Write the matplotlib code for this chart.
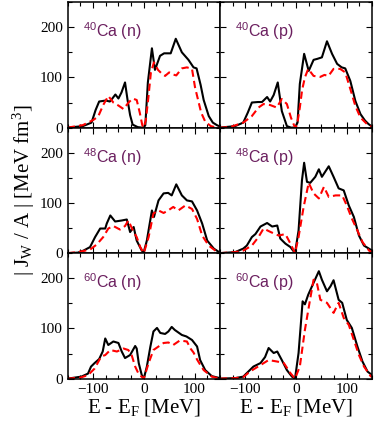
import numpy as np
import matplotlib
matplotlib.use("Agg")
import matplotlib.pyplot as plt
from matplotlib.ticker import MultipleLocator

plt.rcParams['mathtext.default'] = 'regular'

# panel labels (row by row, left = neutrons, right = protons)
labels = [["40", "Ca (n)"], ["40", "Ca (p)"],
          ["48", "Ca (n)"], ["48", "Ca (p)"],
          ["60", "Ca (n)"], ["60", "Ca (p)"]]

# black solid curves
x_ca40n = [-150, -120, -103, -95, -88, -75, -67, -62, -56, -50, -44, -37, -32, -27, -22, -12, -4, 0, 3, 8, 16, 22, 32, 40, 53, 63, 75, 88, 98, 104, 112, 118, 128, 136, 144, 150]
y_ca40n = [0, 3, 10, 35, 52, 54, 52, 58, 66, 58, 70, 90, 55, 25, 6, 1, 0, 0, 5, 90, 158, 115, 143, 148, 148, 177, 150, 135, 120, 118, 85, 55, 23, 10, 5, 2]
x_ca40p = [-150, -120, -104, -95, -87, -75, -67, -57, -51, -44, -36, -28, -18, -10, -2, 3, 7.5, 16, 25, 34.6, 42, 51, 61, 71, 81, 90, 97, 107, 117, 127, 136, 143, 150]
y_ca40p = [0, 3, 10, 30, 50, 51, 51, 61, 52, 65, 90, 33, 3, 0, 0, 10, 87, 147, 113, 135, 137, 140, 172, 147, 127, 120, 118, 93, 53, 27, 14, 7, 2]
x_ca48n = [-150, -130, -119, -106, -96, -86, -76, -73, -66, -56.5, -43.5, -33.5, -27, -20, -14, -4, 0, 6, 16, 20, 29, 39, 48, 55, 64, 75, 85, 95, 105, 115, 125, 138, 150]
y_ca48n = [0, 1, 5, 12, 32, 49, 49, 59, 75, 63, 65, 67, 42, 52, 25, 5, 2, 25, 85, 72, 105, 119, 120, 115, 137, 115, 105, 103, 85, 59, 25, 9, 1]
x_ca48p = [-150, -120, -104, -97, -87, -80, -70, -57, -47, -37, -31, -21, -11, -2, 5, 11.7, 16, 21.6, 28, 38, 45, 51, 64.5, 74, 84, 94, 104, 114, 124, 134, 150]
y_ca48p = [0, 2, 9, 15, 32, 38, 53, 60, 53, 55, 29, 19, 12, 0, 45, 145, 180, 142, 140, 152, 167, 152, 173, 152, 129, 125, 95, 72, 35, 15, 5]
x_ca60n = [-150, -123, -110, -104, -97, -88, -81, -76, -70, -60, -50, -43.5, -37, -27, -17, -14, -10, -4, 0, 6, 13, 19, 26, 32.5, 42, 48.5, 55, 61, 75, 84, 95, 105, 111, 121, 134, 150]
y_ca60n = [0, 4, 10, 24, 31, 39, 54, 80, 67, 74, 71, 54, 41, 47, 65, 60, 31, 7, 0, 24, 64, 94, 101, 91, 89, 94, 103, 97, 87, 84, 77, 64, 37, 17, 5, 1]
x_ca60p = [-150, -120, -104, -94, -84, -70, -61, -54, -44, -37, -28, -18, -8, -2, 5, 13, 17.5, 24, 34.6, 45, 51, 61, 68, 74, 84, 91, 100, 110, 121, 131, 141, 150]
y_ca60p = [0, 1, 4, 14, 24, 31, 43, 61, 51, 54, 37, 17, 4, 0, 51, 154, 148, 167, 191, 214, 197, 174, 184, 196, 157, 151, 117, 101, 64, 34, 14, 7]

# red dashed curves
xr_ca40n = [-150, -120, -100, -90, -80, -70, -60, -50, -40, -30, -22, -14, -8, -3, 0, 4, 9, 14, 20, 28, 35, 42, 50, 57, 64, 75, 85, 95, 101, 107, 113, 121, 132, 144, 150]
yr_ca40n = [0, 5, 15, 22, 45, 63, 50, 44, 37, 50, 58, 55, 30, 5, 0, 15, 60, 110, 130, 115, 108, 103, 110, 106, 104, 118, 120, 117, 80, 55, 30, 12, 3, 0, 0]
xr_ca40p = [-150, -130, -104, -87, -74, -64, -51, -38, -28, -18, -10, -2, 2, 7.5, 12, 17.5, 24, 34.6, 47.7, 56, 64, 74, 87, 97, 107, 117, 127, 140, 150]
yr_ca40p = [0, 1, 10, 23, 40, 47, 45, 40, 57, 47, 20, 0, 5, 40, 75, 100, 117, 103, 101, 105, 103, 117, 117, 110, 77, 43, 20, 7, 2]
xr_ca48n = [-150, -130, -106, -93, -80, -70, -60, -47, -37, -30.5, -20, -14, -7, 0, 9.5, 19, 29, 39, 48, 58, 68, 82, 95, 105, 115, 128, 145, 150]
yr_ca48n = [0, 2, 7, 17, 32, 49, 54, 47, 54, 65, 42, 32, 12, 0, 32, 79, 85, 80, 85, 92, 85, 95, 88, 68, 35, 15, 2, 0]
xr_ca48p = [-150, -120, -104, -87, -74, -64, -50, -34, -21, -11, -2, 5, 15, 25, 34.6, 45, 55, 64.5, 78, 91, 100, 110, 121, 131, 144, 150]
yr_ca48p = [0, 2, 5, 15, 32, 49, 42, 35, 38, 19, 0, 32, 92, 140, 119, 109, 132, 112, 115, 115, 95, 69, 45, 22, 5, 2]
xr_ca60n = [-150, -125, -110, -97, -84, -76, -66, -53, -40, -30.5, -24, -17, -10, 0, 9.5, 19, 29, 39, 48.5, 58, 71, 85, 92, 98, 105, 111, 118, 134, 150]
yr_ca60n = [0, 2, 7, 20, 44, 47, 57, 54, 60, 57, 47, 24, 9, 0, 31, 57, 64, 71, 72, 67, 76, 74, 60, 52, 38, 28, 17, 4, 0]
xr_ca60p = [-150, -120, -104, -91, -70, -54, -37, -24, -11, -2, 7.5, 17.5, 27.6, 34.6, 41, 48, 61, 74, 84, 94, 104, 114, 124, 134, 147, 150]
yr_ca60p = [0, 1, 3, 14, 27, 37, 34, 31, 11, 0, 24, 97, 157, 197, 191, 157, 151, 131, 151, 121, 107, 77, 47, 24, 5, 3]

black = [(x_ca40n, y_ca40n), (x_ca40p, y_ca40p),
         (x_ca48n, y_ca48n), (x_ca48p, y_ca48p),
         (x_ca60n, y_ca60n), (x_ca60p, y_ca60p)]
red = [(xr_ca40n, yr_ca40n), (xr_ca40p, yr_ca40p),
       (xr_ca48n, yr_ca48n), (xr_ca48p, yr_ca48p),
       (xr_ca60n, yr_ca60n), (xr_ca60p, yr_ca60p)]

serif = 'Liberation Serif'
purple = '#6b1f5f'

fig, axes = plt.subplots(3, 2, figsize=(3.74, 4.24), dpi=100, sharex=True, sharey=True)
fig.subplots_adjust(left=0.181, right=0.995, top=0.995, bottom=0.107, wspace=0, hspace=0)

for i, ax in enumerate(axes.flat):
    xb, yb = black[i]
    xr, yr = red[i]
    ax.plot(xb, yb, color='black', lw=1.5)
    ax.plot(xr, yr, color='red', lw=1.5, dashes=(3.5, 2))
    ax.set_xlim(-150, 150)
    ax.set_ylim(0, 250)
    ax.xaxis.set_major_locator(MultipleLocator(100))
    ax.xaxis.set_minor_locator(MultipleLocator(25))
    ax.yaxis.set_major_locator(MultipleLocator(100))
    ax.yaxis.set_minor_locator(MultipleLocator(50))
    ax.tick_params(which='both', direction='in', top=True, right=True, width=0.8)
    ax.tick_params(which='major', length=4.5, labelsize=11)
    ax.tick_params(which='minor', length=3)
    for lab in ax.get_xticklabels() + ax.get_yticklabels():
        lab.set_family(serif)
    for sp in ax.spines.values():
        sp.set_linewidth(1.1)
    ax.text(0.10, 0.72, r"$^{%s}$%s" % (labels[i][0], labels[i][1]),
            transform=ax.transAxes, color=purple, fontsize=11.5,
            family='Liberation Sans', va='baseline', ha='left')

fig.text(0.064, 0.552, r"| J$_W$ / A | [MeV fm$^3$]", rotation=90,
         ha='center', va='center', family=serif, fontsize=15)
for xc in (143.6 / 374, 295.8 / 374):
    fig.text(xc, 1 - 408 / 424, r"E - E$_F$ [MeV]", ha='center', va='center',
             family=serif, fontsize=15)

fig.savefig('out.png', dpi=100)
